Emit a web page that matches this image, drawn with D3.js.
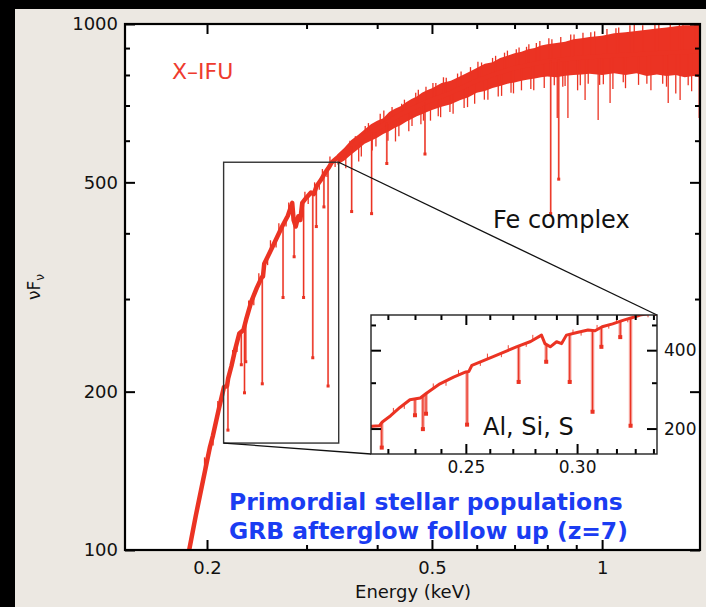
<!DOCTYPE html>
<html>
<head>
<meta charset="utf-8">
<script src="https://cdn.jsdelivr.net/npm/d3@7"></script>
<style>
html, body { margin: 0; padding: 0; background: #000; }
svg { display: block; }
text { font-family: "DejaVu Sans", sans-serif; }
</style>
</head>
<body>
<svg id="chart" width="706" height="607"></svg>
<script>
// ---------------- data ----------------

// continuum (centre of the spectrum), energy in keV, nuFnu
const contE = [0.180, 0.186, 0.191, 0.1969, 0.2024, 0.2049, 0.2100, 0.2143, 0.2170, 0.2180, 0.2210,
  0.2244, 0.2281, 0.2320, 0.2345, 0.2396, 0.2450, 0.2500, 0.2512, 0.2525, 0.2612, 0.2716,
  0.2780, 0.2830, 0.2846, 0.2871, 0.2901, 0.2925, 0.2948, 0.3000, 0.3054, 0.3090, 0.3126,
  0.3180, 0.3238, 0.3290, 0.3326, 0.3420, 0.3600, 0.3800, 0.4000, 0.4300, 0.4600, 0.5000,
  0.5400, 0.6000, 0.6500, 0.7000, 0.7500, 0.8000, 0.9000, 1.0000, 1.2000, 1.5000];
const contF = [88, 100, 116, 136, 157, 165, 186, 204, 205, 212, 224,
  241, 258, 262, 274, 297, 315, 330, 331, 350, 377, 412,
  432, 457, 424, 412, 431, 424, 457, 468, 478, 475, 492,
  505, 522, 535, 546, 560, 585, 612, 632, 664, 690, 718,
  740, 780, 805, 825, 838, 850, 862, 868, 878, 888];

// noise band (spread of the error bars) at higher energies
const bandE = [0.34, 0.35, 0.36, 0.37, 0.38, 0.39, 0.40, 0.41, 0.42, 0.43, 0.44, 0.45, 0.46, 0.47,
  0.48, 0.49, 0.50, 0.52, 0.54, 0.56, 0.58, 0.60, 0.62, 0.64, 0.66, 0.68, 0.70, 0.72, 0.74,
  0.76, 0.78, 0.80, 0.83, 0.86, 0.89, 0.92, 0.95, 1.00, 1.05, 1.10, 1.15, 1.20, 1.25, 1.30,
  1.35, 1.40, 1.45, 1.50];
const bandLo = [540, 550, 565, 578, 592, 600, 608, 618, 625, 635, 642, 652, 660, 668,
  674, 680, 686, 696, 704, 716, 726, 740, 746, 756, 762, 770, 774, 780, 784,
  788, 792, 795, 792, 797, 800, 802, 804, 800, 806, 800, 806, 796, 802, 796,
  800, 792, 796, 790];
const bandHi = [565, 582, 602, 615, 630, 645, 655, 662, 680, 690, 698, 710, 720, 728,
  740, 748, 755, 772, 780, 795, 810, 825, 840, 846, 862, 870, 880, 886, 895,
  900, 910, 915, 920, 925, 935, 940, 945, 950, 960, 965, 970, 975, 980, 985,
  990, 995, 995, 1000];

// single noisy bins sticking out of the curve / band
const spikeE = [0.198, 0.205, 0.209, 0.222, 0.226, 0.237, 0.242, 0.247, 0.256, 0.259, 0.265,
  0.268, 0.276, 0.279, 0.298, 0.302, 0.310, 0.316, 0.320, 0.326, 0.330, 0.337,
  0.352, 0.358, 0.366, 0.371, 0.375, 0.381, 0.386, 0.392, 0.398, 0.405, 0.411, 0.418, 0.425,
  0.431, 0.437, 0.442, 0.447, 0.455, 0.461, 0.468, 0.473, 0.478, 0.483, 0.488, 0.497, 0.502,
  0.508, 0.513, 0.518, 0.524, 0.530, 0.538, 0.545, 0.555, 0.563, 0.570, 0.578, 0.585, 0.595,
  0.603, 0.612, 0.619, 0.628, 0.640, 0.648, 0.655, 0.664, 0.672, 0.680, 0.690, 0.697, 0.705,
  0.713, 0.720, 0.735, 0.742, 0.748, 0.757, 0.765, 0.776, 0.790, 0.805, 0.815, 0.823, 0.833,
  0.845, 0.852, 0.860, 0.870, 0.880, 0.892, 0.905, 0.915, 0.925, 0.933, 0.945, 0.955, 0.970,
  0.984, 0.990, 1.005, 1.020, 1.033, 1.045, 1.058, 1.070, 1.090, 1.100, 1.120, 1.140, 1.160,
  1.180, 1.200, 1.220, 1.240, 1.260, 1.280, 1.300, 1.309, 1.320, 1.350, 1.370, 1.374, 1.390,
  1.420, 1.440, 1.460, 1.485];
const spikeF = [150, 158, 192, 240, 238, 298, 292, 336, 348, 388, 376,
  418, 412, 458, 480, 455, 500, 484, 530, 512, 560, 535,
  532, 600, 612, 548, 560, 640, 648, 575, 585, 675, 685, 600, 695,
  598, 612, 705, 718, 625, 640, 740, 750, 645, 655, 760, 655, 772,
  772, 668, 665, 792, 790, 680, 675, 805, 812, 692, 695, 828, 705,
  848, 845, 718, 718, 862, 870, 728, 730, 882, 890, 740, 738, 895,
  902, 748, 905, 915, 752, 748, 920, 928, 756, 940, 935, 765, 663,
  945, 760, 762, 663, 955, 955, 748, 765, 962, 717, 770, 965, 968,
  657, 766, 768, 978, 708, 752, 982, 985, 775, 755, 995, 998, 766,
  995, 770, 748, 1000, 1000, 770, 760, 708, 1005, 738, 1008, 717, 1005,
  765, 745, 1005, 663];

// absorption lines: energy (keV) and depth reached (nuFnu)
const lineE = [0.2178, 0.2300, 0.2330, 0.2342, 0.2505, 0.2726, 0.2852, 0.2964, 0.3077, 0.3122,
  0.3220, 0.3275, 0.3605, 0.3910, 0.4160, 0.4860, 0.8110, 0.8380];
const lineF = [169, 225, 199, 228, 207, 302, 361, 302, 232, 412,
  449, 205, 440, 436, 543, 566, 436, 507];

// axes
const xDomain = [0.1432, 1.49];
const yDomain = [100, 1000];
const xMajor = [0.2, 0.5, 1];
const xMinor = [0.3, 0.4, 0.6, 0.7, 0.8, 0.9];
const yMajor = [100, 200, 500, 1000];
const yMinor = [300, 400, 600, 700, 800, 900];

// zoomed region shown in the inset
const zoomE = [0.214, 0.342];
const zoomF = [159.7, 546];
const insetXMajor = [0.25, 0.30];
const insetXMinor = [0.22, 0.23, 0.24, 0.26, 0.27, 0.28, 0.29, 0.31, 0.32, 0.33, 0.34];
const insetYMajor = [200, 400];
const insetYMinor = [300, 500];

// ---------------- drawing ----------------
const RED = "#eb3323";
const svg = d3.select("#chart");

svg.append("rect").attr("x", 15).attr("y", 9).attr("width", 691).attr("height", 598)
  .attr("fill", "#ece8e2");

const L = 125, R = 700, T = 24, B = 550;
const x = d3.scaleLog().domain(xDomain).range([L, R]);
const y = d3.scaleLog().domain(yDomain).range([B, T]);

svg.append("rect").attr("x", L).attr("y", T).attr("width", R - L).attr("height", B - T)
  .attr("fill", "#fff");

const defs = svg.append("defs");
defs.append("clipPath").attr("id", "clipMain").append("rect")
  .attr("x", L).attr("y", T).attr("width", R - L).attr("height", B - T);

const cont = contE.map((e, i) => ({ e: e, f: contF[i] }));
const band = bandE.map((e, i) => ({ e: e, lo: bandLo[i], hi: bandHi[i] }));

function contAt(e) {
  const i = Math.max(1, Math.min(contE.length - 1, d3.bisectLeft(contE, e)));
  const t = (Math.log(e) - Math.log(contE[i - 1])) / (Math.log(contE[i]) - Math.log(contE[i - 1]));
  return Math.exp(Math.log(contF[i - 1]) + t * (Math.log(contF[i]) - Math.log(contF[i - 1])));
}

function drawSpectrum(g, xs, ys, widths) {
  g.append("path").datum(band)
    .attr("d", d3.area().x(d => xs(d.e)).y0(d => ys(d.lo)).y1(d => ys(d.hi)))
    .attr("fill", RED);
  g.selectAll(".spike").data(spikeE).enter().append("line")
    .attr("x1", d => xs(d)).attr("x2", d => xs(d))
    .attr("y1", d => ys(contAt(d))).attr("y2", (d, i) => ys(spikeF[i]))
    .attr("stroke", RED).attr("stroke-width", widths.spike);
  g.append("path").datum(cont)
    .attr("d", d3.line().x(d => xs(d.e)).y(d => ys(d.f)))
    .attr("fill", "none").attr("stroke", RED).attr("stroke-width", widths.curve)
    .attr("stroke-linejoin", "round");
  g.selectAll(".absw").data(lineE).enter().append("line")
    .attr("x1", d => xs(d)).attr("x2", d => xs(d))
    .attr("y1", d => ys(contAt(d))).attr("y2", (d, i) => ys(lineF[i]))
    .attr("stroke", RED).attr("stroke-opacity", 0.45).attr("stroke-width", widths.wide);
  g.selectAll(".abs").data(lineE).enter().append("line")
    .attr("x1", d => xs(d)).attr("x2", d => xs(d))
    .attr("y1", d => ys(contAt(d))).attr("y2", (d, i) => ys(lineF[i]))
    .attr("stroke", RED).attr("stroke-width", 1.2);
  g.selectAll(".absm").data(lineE).enter().append("rect")
    .attr("x", d => xs(d) - widths.mark / 2).attr("y", (d, i) => ys(lineF[i]) - widths.mark / 2)
    .attr("width", widths.mark).attr("height", widths.mark).attr("fill", RED);
}

const main = svg.append("g").attr("clip-path", "url(#clipMain)");
drawSpectrum(main, x, y, { curve: 4.5, wide: 2, mark: 3, spike: 1.3 });

// zoom box and connectors
const bx0 = x(zoomE[0]), bx1 = x(zoomE[1]), by0 = y(zoomF[1]), by1 = y(zoomF[0]);
svg.append("rect").attr("x", bx0).attr("y", by0).attr("width", bx1 - bx0).attr("height", by1 - by0)
  .attr("fill", "none").attr("stroke", "#333").attr("stroke-width", 1.4);

const IL = 371, IR = 657, IT = 315, IB = 454;
svg.append("line").attr("x1", bx1).attr("y1", by0).attr("x2", IR).attr("y2", IT)
  .attr("stroke", "#111").attr("stroke-width", 1.3);
svg.append("line").attr("x1", bx0).attr("y1", by1).attr("x2", IL).attr("y2", IB)
  .attr("stroke", "#111").attr("stroke-width", 1.3);

// texts
svg.append("text").attr("x", 172).attr("y", 79).attr("fill", "#ee3b2e")
  .style("font-size", "22px").text("X\u2013IFU");
svg.append("text").attr("x", 493).attr("y", 228).attr("fill", "#111")
  .style("font-size", "24px").text("Fe complex");
svg.append("text").attr("x", 229).attr("y", 510).attr("fill", "#1a3cf2")
  .style("font-size", "23.4px").style("font-weight", "bold").text("Primordial stellar populations");
svg.append("text").attr("x", 229).attr("y", 539).attr("fill", "#1a3cf2")
  .style("font-size", "23.4px").style("font-weight", "bold").text("GRB afterglow follow up (z=7)");

// axes helper
function ticks(g, axis, scale, vals, size, labels, pad, fs) {
  const a = axis(scale).tickValues(vals).tickSize(-size).tickPadding(pad);
  if (!labels) a.tickFormat("");
  else a.tickFormat(labels);
  const s = g.call(a);
  s.select(".domain").remove();
  s.selectAll("text").style("font-family", "DejaVu Sans, sans-serif").style("font-size", fs + "px")
    .attr("fill", "#111");
  return s;
}

const fmtMain = d3.format("~g");
ticks(svg.append("g").attr("transform", `translate(0,${B})`), d3.axisBottom, x, xMajor, 10, fmtMain, 11, 18);
ticks(svg.append("g").attr("transform", `translate(0,${B})`), d3.axisBottom, x, xMinor, 5, null, 0, 18);
ticks(svg.append("g").attr("transform", `translate(0,${T})`), d3.axisTop, x, xMajor, 10, null, 0, 18);
ticks(svg.append("g").attr("transform", `translate(0,${T})`), d3.axisTop, x, xMinor, 5, null, 0, 18);
ticks(svg.append("g").attr("transform", `translate(${L},0)`), d3.axisLeft, y, yMajor, 10, d3.format("d"), 7, 18);
ticks(svg.append("g").attr("transform", `translate(${L},0)`), d3.axisLeft, y, yMinor, 5, null, 0, 18);
ticks(svg.append("g").attr("transform", `translate(${R},0)`), d3.axisRight, y, yMajor, 10, null, 0, 18);
ticks(svg.append("g").attr("transform", `translate(${R},0)`), d3.axisRight, y, yMinor, 5, null, 0, 18);
svg.selectAll(".tick line").attr("stroke", "#000").attr("stroke-width", 2);

svg.append("rect").attr("x", L).attr("y", T).attr("width", R - L).attr("height", B - T)
  .attr("fill", "none").attr("stroke", "#000").attr("stroke-width", 2.2);

// axis titles
svg.append("text").attr("x", 413).attr("y", 598).attr("text-anchor", "middle").attr("fill", "#111")
  .style("font-size", "18px").text("Energy (keV)");
const yl = svg.append("text").attr("transform", "translate(40,287) rotate(-90)")
  .attr("text-anchor", "middle").attr("fill", "#111").style("font-size", "17px");
yl.append("tspan").text("\u03bdF");
yl.append("tspan").attr("dy", 4).style("font-size", "12px").text("\u03bd");

// ---------------- inset ----------------
const xi = d3.scaleLog().domain(zoomE).range([IL, IR]);
const yi = d3.scaleLog().domain(zoomF).range([IB, IT]);
defs.append("clipPath").attr("id", "clipInset").append("rect")
  .attr("x", IL).attr("y", IT).attr("width", IR - IL).attr("height", IB - IT);

svg.append("rect").attr("x", IL).attr("y", IT).attr("width", IR - IL).attr("height", IB - IT)
  .attr("fill", "#fff");
const inset = svg.append("g").attr("clip-path", "url(#clipInset)");
drawSpectrum(inset, xi, yi, { curve: 3, wide: 3.5, mark: 4, spike: 0.9 });

const ia = svg.append("g");
ticks(ia.append("g").attr("transform", `translate(0,${IB})`), d3.axisBottom, xi, insetXMajor, 10, d3.format(".2f"), 7, 17);
ticks(ia.append("g").attr("transform", `translate(0,${IB})`), d3.axisBottom, xi, insetXMinor, 5, null, 0, 17);
ticks(ia.append("g").attr("transform", `translate(0,${IT})`), d3.axisTop, xi, insetXMajor, 10, null, 0, 17);
ticks(ia.append("g").attr("transform", `translate(0,${IT})`), d3.axisTop, xi, insetXMinor, 5, null, 0, 17);
ticks(ia.append("g").attr("transform", `translate(${IL},0)`), d3.axisLeft, yi, insetYMajor, 10, null, 0, 17);
ticks(ia.append("g").attr("transform", `translate(${IL},0)`), d3.axisLeft, yi, insetYMinor, 5, null, 0, 17);
ticks(ia.append("g").attr("transform", `translate(${IR},0)`), d3.axisRight, yi, insetYMajor, 10, d3.format("d"), 7, 17);
ticks(ia.append("g").attr("transform", `translate(${IR},0)`), d3.axisRight, yi, insetYMinor, 5, null, 0, 17);
ia.selectAll(".tick line").attr("stroke", "#000").attr("stroke-width", 2);

svg.append("rect").attr("x", IL).attr("y", IT).attr("width", IR - IL).attr("height", IB - IT)
  .attr("fill", "none").attr("stroke", "#222").attr("stroke-width", 1.4);
svg.append("text").attr("x", 483).attr("y", 435).attr("fill", "#111")
  .style("font-size", "24px").text("Al, Si, S");
</script>
</body>
</html>
